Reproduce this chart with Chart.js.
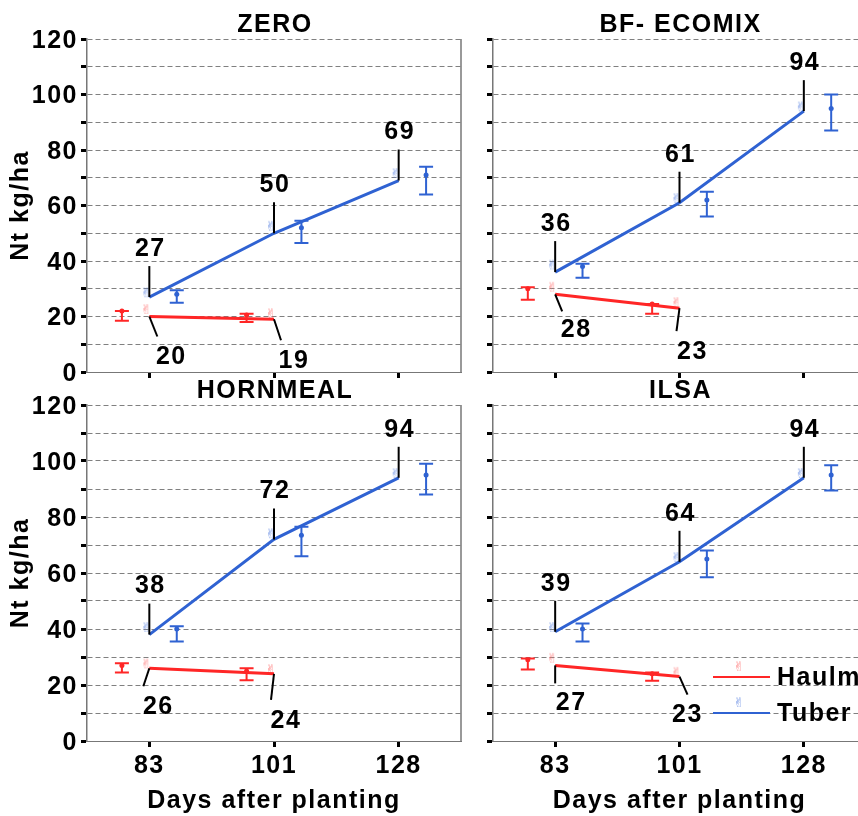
<!DOCTYPE html>
<html>
<head>
<meta charset="utf-8">
<title>Nt uptake</title>
<script src="https://cdn.jsdelivr.net/npm/chart.js@4.4.1/dist/chart.umd.min.js"></script>
<style>
  html, body { margin: 0; padding: 0; background: #fff; width: 858px; height: 816px; overflow: hidden; }
  .panel { position: absolute; }
  .panel canvas { display: block; }
</style>
</head>
<body>
<div class="panel" style="left:0;top:0"><canvas id="pZero" width="470" height="390"></canvas></div>
<div class="panel" style="left:430px;top:0"><canvas id="pEcomix" width="440" height="390"></canvas></div>
<div class="panel" style="left:0;top:380px"><canvas id="pHorn" width="470" height="436"></canvas></div>
<div class="panel" style="left:430px;top:380px"><canvas id="pIlsa" width="440" height="436"></canvas></div>
<script>
const days = ['83', '101', '128'];
const seriesNames = ['Haulm', 'Tuber'];
const panelTitles = ['ZERO', 'BF- ECOMIX', 'HORNMEAL', 'ILSA'];

// fitted lines (the labelled values)
const zeroTuber = [27, 50, 69];
const zeroHaulm = [20, 19];
const ecomixTuber = [36, 61, 94];
const ecomixHaulm = [28, 23];
const hornTuber = [38, 72, 94];
const hornHaulm = [26, 24];
const ilsaTuber = [39, 64, 94];
const ilsaHaulm = [27, 23];

// measured means with error range
const zeroTuberMean = [28, 52, 71];
const zeroTuberLow = [25, 46.5, 64];
const zeroTuberHigh = [29.5, 54.5, 74];
const zeroHaulmMean = [22, 20.5];
const zeroHaulmLow = [18.5, 18];
const zeroHaulmHigh = [22, 21];

const ecomixTuberMean = [38, 62, 95];
const ecomixTuberLow = [34, 56, 87];
const ecomixTuberHigh = [39, 65, 100];
const ecomixHaulmMean = [30, 24.5];
const ecomixHaulmLow = [26, 21];
const ecomixHaulmHigh = [30.5, 24.5];

const hornTuberMean = [40, 73.5, 95];
const hornTuberLow = [35.5, 66, 88];
const hornTuberHigh = [41, 76.5, 99];
const hornHaulmMean = [27, 25];
const hornHaulmLow = [24.5, 21.7];
const hornHaulmHigh = [27.8, 26];

const ilsaTuberMean = [40, 65, 95];
const ilsaTuberLow = [35.5, 58.5, 89.5];
const ilsaTuberHigh = [42, 68, 98.5];
const ilsaHaulmMean = [29, 24];
const ilsaHaulmLow = [25.5, 21.5];
const ilsaHaulmHigh = [29.5, 24.5];

const yTicks = [0, 20, 40, 60, 80, 100, 120];

const tuberColor = '#2f62d2';
const haulmColor = '#ff2626';
const barShift = 0.22;
const fontFamily = '"Liberation Sans", Arial, sans-serif';
const boldFont = { family: fontFamily, size: 25, weight: 'bold' };
const spacing = '1.5px';

// the little hand marker used for the raw means
function handGlyph(color) {
  const c = document.createElement('canvas');
  c.width = 18;
  c.height = 18;
  const g = c.getContext('2d');
  g.font = '13px "DejaVu Sans"';
  g.fillStyle = color;
  g.textAlign = 'center';
  g.textBaseline = 'middle';
  g.fillText('\u270C', 6, 9);
  return c;
}
const tuberGlyph = handGlyph('rgba(90,130,225,0.8)');
const haulmGlyph = handGlyph('rgba(255,110,110,0.8)');

function pts(values, shift) {
  return values.map((v, i) => ({ x: i + shift, y: v }));
}

function line(ctx, x0, y0, x1, y1) {
  ctx.beginPath();
  ctx.moveTo(x0, y0);
  ctx.lineTo(x1, y1);
  ctx.stroke();
}

function whisker(ctx, px, yScale, low, high, color) {
  const pl = yScale.getPixelForValue(low);
  const ph = yScale.getPixelForValue(high);
  ctx.strokeStyle = color;
  ctx.lineWidth = 2;
  ctx.beginPath();
  ctx.moveTo(px, pl); ctx.lineTo(px, ph);
  ctx.moveTo(px - 7, pl); ctx.lineTo(px + 7, pl);
  ctx.moveTo(px - 7, ph); ctx.lineTo(px + 7, ph);
  ctx.stroke();
}

function decor(p) {
  return {
    id: 'panelDecor',
    beforeDraw(chart) {
      chart.ctx.letterSpacing = spacing;
    },
    afterDatasetsDraw(chart) {
      const { ctx, chartArea: a, scales: { x, y } } = chart;
      ctx.save();
      ctx.letterSpacing = spacing;

      p.tuberMean.forEach((v, i) => {
        whisker(ctx, x.getPixelForValue(i + barShift), y, p.tuberLow[i], p.tuberHigh[i], tuberColor);
      });
      p.haulmMean.forEach((v, i) => {
        whisker(ctx, x.getPixelForValue(i - barShift), y, p.haulmLow[i], p.haulmHigh[i], haulmColor);
      });

      // value notes with leader lines
      ctx.strokeStyle = '#000';
      ctx.lineWidth = 2;
      ctx.fillStyle = '#000';
      ctx.font = 'bold 25px ' + fontFamily;
      ctx.textAlign = 'center';
      ctx.textBaseline = 'middle';
      p.tuber.forEach((v, i) => {
        const px = x.getPixelForValue(i), py = y.getPixelForValue(v);
        line(ctx, px, py, px, py - 31);
        ctx.fillText(String(v), px + 1, py - 48);
      });
      p.haulm.forEach((v, i) => {
        const px = x.getPixelForValue(i), py = y.getPixelForValue(v);
        const [lx, ly, tx, ty] = p.haulmNotes[i];
        line(ctx, px, py, px + lx, py + ly);
        ctx.fillText(String(v), px + tx + 1, py + ty + 1);
      });

      // panel title
      ctx.textBaseline = 'alphabetic';
      ctx.fillText(p.title, (a.left + a.right) / 2 + 1, a.top - 7);

      // right frame edge
      if (p.leftCol) {
        ctx.strokeStyle = '#777';
        ctx.lineWidth = 1.5;
        line(ctx, a.right, a.top, a.right, a.bottom);
      }

      if (p.legend) {
        const rows = [
          { name: seriesNames[0], color: haulmColor, glyph: haulmGlyph, dy: 272 },
          { name: seriesNames[1], color: tuberColor, glyph: tuberGlyph, dy: 308 },
        ];
        ctx.textAlign = 'left';
        ctx.textBaseline = 'middle';
        rows.forEach(r => {
          const ly = a.top + r.dy;
          ctx.strokeStyle = r.color;
          ctx.lineWidth = 2;
          line(ctx, a.left + 220, ly, a.left + 277, ly);
          ctx.drawImage(r.glyph, a.left + 246 - 6, ly - 9 - 9);
          ctx.fillStyle = '#000';
          ctx.fillText(r.name, a.left + 284, ly + 1);
        });
      }
      ctx.restore();
    }
  };
}

function buildPanel(p) {
  const box = p.box;
  const datasets = [
    { label: seriesNames[1], data: pts(p.tuber, 0), borderColor: tuberColor, borderWidth: 3, pointRadius: 0, tension: 0 },
    { label: seriesNames[0], data: pts(p.haulm, 0), borderColor: haulmColor, borderWidth: 3, pointRadius: 0, tension: 0 },
    { label: 'tuber mean', data: pts(p.tuberMean, 0), showLine: false, pointStyle: tuberGlyph, pointRadius: 3 },
    { label: 'haulm mean', data: pts(p.haulmMean, 0), showLine: false, pointStyle: haulmGlyph, pointRadius: 3 },
    { label: 'tuber bar', data: pts(p.tuberMean, barShift), showLine: false, pointRadius: 2.5, pointBorderWidth: 0, pointBackgroundColor: tuberColor },
    { label: 'haulm bar', data: pts(p.haulmMean, -barShift), showLine: false, pointRadius: 2.5, pointBorderWidth: 0, pointBackgroundColor: haulmColor },
  ];

  new Chart(document.getElementById(p.canvas), {
    type: 'line',
    data: { datasets },
    options: {
      responsive: false,
      animation: false,
      layout: { autoPadding: false, padding: { left: 0, top: box.top, right: box.padR, bottom: 0 } },
      plugins: { legend: { display: false }, tooltip: { enabled: false } },
      scales: {
        x: {
          type: 'linear',
          min: -0.5,
          max: 2.5,
          afterBuildTicks: s => { s.ticks = days.map((d, i) => ({ value: i })); },
          afterFit: s => { s.height = box.xh; },
          grid: { drawOnChartArea: false, drawTicks: true, tickLength: 6, tickWidth: 3, tickColor: '#000', color: '#000' },
          border: { display: true, color: '#777', width: 1 },
          ticks: {
            display: p.bottomRow,
            autoSkip: false,
            maxRotation: 0,
            padding: 4,
            color: '#000',
            font: boldFont,
            callback: v => days[v] ?? '',
          },
          title: {
            display: p.bottomRow,
            text: 'Days after planting',
            color: '#000',
            font: boldFont,
            padding: { top: 0, bottom: 0 },
          },
        },
        y: {
          type: 'linear',
          min: 0,
          max: 120,
          afterFit: s => { s.width = box.yw; },
          grid: { color: '#808080', lineWidth: 1, tickLength: 6, tickWidth: 3, tickColor: '#000' },
          border: { display: true, color: '#777', width: 1.5, dash: [5, 3] },
          ticks: {
            stepSize: 10,
            autoSkip: false,
            padding: 3,
            labelOffset: 2,
            color: '#000',
            font: boldFont,
            callback: v => (p.leftCol && yTicks.includes(v)) ? String(v) : '',
          },
          title: {
            display: p.leftCol,
            text: 'Nt kg/ha',
            color: '#000',
            font: boldFont,
            padding: { top: 6, bottom: 0 },
          },
        },
      },
    },
    plugins: [decor(p)],
  });
}

buildPanel({
  canvas: 'pZero', title: panelTitles[0], leftCol: true, bottomRow: false, legend: false,
  box: { top: 39, yw: 87, padR: 9, xh: 16 },
  tuber: zeroTuber, haulm: zeroHaulm,
  tuberMean: zeroTuberMean, tuberLow: zeroTuberLow, tuberHigh: zeroTuberHigh,
  haulmMean: zeroHaulmMean, haulmLow: zeroHaulmLow, haulmHigh: zeroHaulmHigh,
  haulmNotes: [[8, 20, 21, 40], [7, 21, 19, 41]],
});
buildPanel({
  canvas: 'pEcomix', title: panelTitles[1], leftCol: false, bottomRow: false, legend: false,
  box: { top: 39, yw: 63, padR: 4, xh: 16 },
  tuber: ecomixTuber, haulm: ecomixHaulm,
  tuberMean: ecomixTuberMean, tuberLow: ecomixTuberLow, tuberHigh: ecomixTuberHigh,
  haulmMean: ecomixHaulmMean, haulmLow: ecomixHaulmLow, haulmHigh: ecomixHaulmHigh,
  haulmNotes: [[7, 17, 20, 35], [-3, 23, 12, 43]],
});
buildPanel({
  canvas: 'pHorn', title: panelTitles[2], leftCol: true, bottomRow: true, legend: false,
  box: { top: 25, yw: 87, padR: 9, xh: 75 },
  tuber: hornTuber, haulm: hornHaulm,
  tuberMean: hornTuberMean, tuberLow: hornTuberLow, tuberHigh: hornTuberHigh,
  haulmMean: hornHaulmMean, haulmLow: hornHaulmLow, haulmHigh: hornHaulmHigh,
  haulmNotes: [[-6, 18, 8, 38], [-3, 26, 11, 46]],
});
buildPanel({
  canvas: 'pIlsa', title: panelTitles[3], leftCol: false, bottomRow: true, legend: true,
  box: { top: 25, yw: 63, padR: 4, xh: 75 },
  tuber: ilsaTuber, haulm: ilsaHaulm,
  tuberMean: ilsaTuberMean, tuberLow: ilsaTuberLow, tuberHigh: ilsaTuberHigh,
  haulmMean: ilsaHaulmMean, haulmLow: ilsaHaulmLow, haulmHigh: ilsaHaulmHigh,
  haulmNotes: [[0, 18, 15, 37], [8, 18, 7, 38]],
});
</script>
</body>
</html>
